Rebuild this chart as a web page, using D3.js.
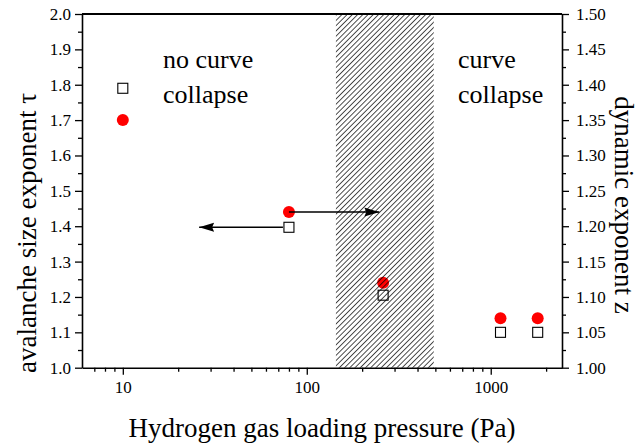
<!DOCTYPE html>
<html><head><meta charset="utf-8">
<script src="https://cdn.jsdelivr.net/npm/d3@7"></script>
<style>
html,body{margin:0;padding:0;background:#fff;}
svg{display:block;}
</style></head>
<body>
<svg id="chart" width="640" height="445"></svg>
<script>
// ---- data ----
const pressure = [10, 80, 260, 1130, 1800];          // Pa
const tauValues = [1.79, 1.397, 1.205, 1.10, 1.10];  // avalanche size exponent (left axis)
const zValues = [1.35, 1.22, 1.12, 1.07, 1.07];      // dynamic exponent (right axis)
const hatchRange = [144, 490];                       // Pa, transition region
const xTickValues = [10, 100, 1000];
const xTickLabels = ["10", "100", "1000"];
const leftTicks = [1.0,1.1,1.2,1.3,1.4,1.5,1.6,1.7,1.8,1.9,2.0];
const rightTicks = [1.00,1.05,1.10,1.15,1.20,1.25,1.30,1.35,1.40,1.45,1.50];
const arrowLeft = {from: 80, to: 26, value: 1.397};   // tau arrow, left axis
const arrowRight = {from: 80, to: 248, value: 1.22};  // z arrow, right axis
const annotations = [
  {lines: ["no curve", "collapse"], x: 163},
  {lines: ["curve", "collapse"], x: 458}
];

const FONT = '"Liberation Serif", "Times New Roman", Times, serif';
const L = 82, R = 562, T = 14, B = 367.7;
const svg = d3.select("#chart");

const x = d3.scaleLog().domain([6, 2440]).range([L, R]);
const yL = d3.scaleLinear().domain([1.0, 2.0]).range([B, T]);
const yR = d3.scaleLinear().domain([1.0, 1.5]).range([B, T]);

// hatch pattern
const defs = svg.append("defs");
const pat = defs.append("pattern").attr("id","hatch")
  .attr("patternUnits","userSpaceOnUse").attr("width",3.7).attr("height",3.7)
  .attr("patternTransform","rotate(45)");
pat.append("line").attr("x1",0).attr("y1",-1).attr("x2",0).attr("y2",5)
  .attr("stroke","#000").attr("stroke-width",1.4);

defs.append("marker").attr("id","ah").attr("viewBox","0 0 15 10")
  .attr("refX",15).attr("refY",5).attr("markerWidth",15).attr("markerHeight",10)
  .attr("markerUnits","userSpaceOnUse").attr("orient","auto")
  .append("path").attr("d","M0,0.5 L15,5 L0,9.5 L2,5 Z").attr("fill","#000");

// points
svg.append("g").selectAll("circle").data(pressure).join("circle")
  .attr("cx", d => x(d)).attr("cy", (d,i) => yR(zValues[i])).attr("r", 6)
  .attr("fill", "#ff0000");
svg.append("g").selectAll("rect").data(pressure).join("rect")
  .attr("x", d => x(d) - 5).attr("y", (d,i) => yL(tauValues[i]) - 5)
  .attr("width", 10).attr("height", 10)
  .attr("fill", "#fff").attr("stroke", "#000").attr("stroke-width", 1.1);

// hatch region drawn over points
svg.append("rect")
  .attr("x", x(hatchRange[0])).attr("y", T)
  .attr("width", x(hatchRange[1]) - x(hatchRange[0])).attr("height", B - T)
  .attr("fill", "url(#hatch)");

// arrows
svg.append("line")
  .attr("x1", x(arrowLeft.from) - 6).attr("y1", yL(arrowLeft.value))
  .attr("x2", x(arrowLeft.to)).attr("y2", yL(arrowLeft.value))
  .attr("stroke","#000").attr("stroke-width",1.5).attr("marker-end","url(#ah)");
svg.append("line")
  .attr("x1", x(arrowRight.from)).attr("y1", yR(arrowRight.value))
  .attr("x2", x(arrowRight.to)).attr("y2", yR(arrowRight.value))
  .attr("stroke","#000").attr("stroke-width",1.5).attr("marker-end","url(#ah)");

// axes
const fs = "17px";
function styleAxis(g){
  g.attr("font-family", FONT);
  g.selectAll(".domain").attr("stroke","#000").attr("stroke-width",1.6);
  g.selectAll(".tick line").attr("stroke","#000").attr("stroke-width",1.3);
  g.selectAll("text").attr("fill","#000").style("font-size", fs).style("font-family", FONT);
}
function styleMinor(g){
  g.select(".domain").remove();
  g.selectAll("line").attr("stroke","#000").attr("stroke-width",1.3);
}
// left
const gl = svg.append("g").attr("transform",`translate(${L},0)`)
  .call(d3.axisLeft(yL).tickValues(leftTicks).tickSize(7).tickSizeOuter(0).tickPadding(4).tickFormat(d3.format(".1f")));
styleAxis(gl);
const leftMinor = [1.05,1.15,1.25,1.35,1.45,1.55,1.65,1.75,1.85,1.95];
svg.append("g").attr("transform",`translate(${L},0)`)
  .call(d3.axisLeft(yL).tickValues(leftMinor).tickSize(4).tickSizeOuter(0).tickFormat(""))
  .call(styleMinor);
// right
const gr = svg.append("g").attr("transform",`translate(${R},0)`)
  .call(d3.axisRight(yR).tickValues(rightTicks).tickSize(7).tickSizeOuter(0).tickPadding(7).tickFormat(d3.format(".2f")));
styleAxis(gr);
const rightMinor = [1.025,1.075,1.125,1.175,1.225,1.275,1.325,1.375,1.425,1.475];
svg.append("g").attr("transform",`translate(${R},0)`)
  .call(d3.axisRight(yR).tickValues(rightMinor).tickSize(4).tickSizeOuter(0).tickFormat(""))
  .call(styleMinor);
// bottom
const gb = svg.append("g").attr("transform",`translate(0,${B})`)
  .call(d3.axisBottom(x).tickValues(xTickValues).tickSize(7).tickSizeOuter(0).tickPadding(6)
    .tickFormat((d,i) => xTickLabels[i]));
styleAxis(gb);
const xMinor = [7,8,9,20,30,40,50,60,70,80,90,200,300,400,500,600,700,800,900,2000];
svg.append("g").attr("transform",`translate(0,${B})`)
  .call(d3.axisBottom(x).tickValues(xMinor).tickSize(4).tickSizeOuter(0).tickFormat(""))
  .call(styleMinor);
// top border
svg.append("line").attr("x1",L).attr("x2",R).attr("y1",T).attr("y2",T)
  .attr("stroke","#000").attr("stroke-width",2.2);

// titles
function txt(sel){ return sel.attr("fill","#000").style("font-family", FONT); }
txt(svg.append("text")).attr("x",(L+R)/2).attr("y",437).attr("text-anchor","middle")
  .style("font-size","27px").text("Hydrogen gas loading pressure (Pa)");
txt(svg.append("text")).attr("transform","translate(36,233) rotate(-90)").attr("text-anchor","middle")
  .style("font-size","27px").text("avalanche size exponent τ");
txt(svg.append("text")).attr("transform","translate(615,205) rotate(90)").attr("text-anchor","middle")
  .style("font-size","27px").text("dynamic exponent z");

// annotations
annotations.forEach(a => {
  a.lines.forEach((ln, j) => {
    txt(svg.append("text")).attr("x", a.x).attr("y", 68 + j*35)
      .style("font-size","26px").text(ln);
  });
});
</script>
</body></html>
